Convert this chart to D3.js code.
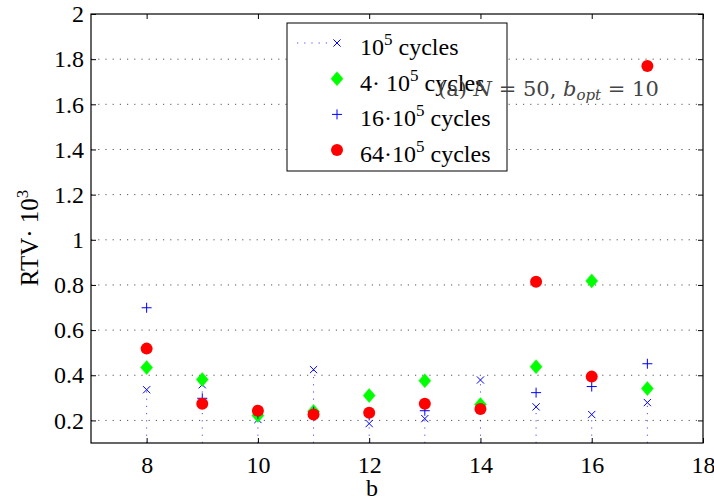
<!DOCTYPE html>
<html>
<head>
<meta charset="utf-8">
<script src="https://cdn.jsdelivr.net/npm/d3@7"></script>
<style>
  body { margin: 0; background: #fff; }
  svg text { font-family: "Liberation Serif", "Times New Roman", Times, serif !important; }
  svg text.math { font-family: "DejaVu Serif", serif !important; }
</style>
</head>
<body>
<div id="chart"></div>
<script>
const WIDTH = 714;
const HEIGHT = 501;

// data
const bValues = [8, 9, 10, 11, 12, 13, 14, 15, 16, 17];
const cycles1 = [0.336, 0.358, 0.204, 0.425, 0.186, 0.208, 0.379, 0.260, 0.226, 0.279];
const cycles4 = [0.434, 0.381, 0.222, 0.240, 0.310, 0.376, 0.270, 0.438, 0.818, 0.341];
const cycles16 = [0.699, 0.298, 0.230, 0.238, 0.222, 0.243, 0.255, 0.323, 0.350, 0.451];
const cycles64 = [0.518, 0.274, 0.243, 0.226, 0.234, 0.274, 0.251, 0.814, 0.394, 1.770];

const xTicks = [8, 10, 12, 14, 16, 18];
const yTicks = [0.2, 0.4, 0.6, 0.8, 1, 1.2, 1.4, 1.6, 1.8, 2];

const BLUE = "#0000ff";
const GREEN = "#00ff00";
const RED = "#ff0000";

const margin = {left: 91, right: 11, top: 14, bottom: 58};
const plotW = WIDTH - margin.left - margin.right;
const plotH = HEIGHT - margin.top - margin.bottom;

var svg = d3.select("#chart").append("svg")
    .attr("width", WIDTH)
    .attr("height", HEIGHT);

var xScale = d3.scaleLinear().domain([7, 18]).range([0, plotW]);
var yScale = d3.scaleLinear().domain([0.1, 2]).range([plotH, 0]);

var g = svg.append("g")
    .attr("transform", "translate(" + margin.left + "," + margin.top + ")");

// horizontal dotted grid
g.selectAll("line.grid")
    .data(yTicks.filter(d => d < 2))
    .enter().append("line")
    .attr("class", "grid")
    .attr("x1", 0).attr("x2", plotW)
    .attr("y1", d => yScale(d)).attr("y2", d => yScale(d))
    .attr("stroke", "#555")
    .attr("stroke-width", 1)
    .attr("stroke-dasharray", "1.2,6");

// axes (ticks inside, mirrored on top / right)
var xBottom = g.append("g")
    .attr("transform", "translate(0," + plotH + ")")
    .call(d3.axisBottom(xScale).tickValues(xTicks).tickSize(-5).tickPadding(13).tickFormat(d3.format("d")));
var xTop = g.append("g")
    .call(d3.axisTop(xScale).tickValues(xTicks).tickSize(-5).tickFormat(""));
var yLeft = g.append("g")
    .call(d3.axisLeft(yScale).tickValues(yTicks).tickSize(-5).tickPadding(7).tickFormat(d => d3.format("")(d)));
var yRight = g.append("g")
    .attr("transform", "translate(" + plotW + ",0)")
    .call(d3.axisRight(yScale).tickValues(yTicks).tickSize(-5).tickFormat(""));

[xBottom, xTop, yLeft, yRight].forEach(a => {
    a.attr("font-family", "Liberation Serif");
    a.select(".domain").remove();
    a.selectAll(".tick line").attr("stroke", "#000");
    a.selectAll("text").attr("font-size", 24).attr("fill", "#000");
});

// stems for the 10^5 series
g.selectAll("line.stem")
    .data(bValues)
    .enter().append("line")
    .attr("class", "stem")
    .attr("x1", d => xScale(d)).attr("x2", d => xScale(d))
    .attr("y1", plotH)
    .attr("y2", (d, i) => yScale(cycles1[i]))
    .attr("stroke", BLUE)
    .attr("stroke-opacity", 0.7)
    .attr("stroke-width", 1)
    .attr("stroke-dasharray", "1.2,6");

function drawCross(sel, s) {
    sel.append("path")
        .attr("d", "M" + (-s) + "," + (-s) + "L" + s + "," + s + "M" + (-s) + "," + s + "L" + s + "," + (-s))
        .attr("stroke", BLUE).attr("stroke-width", 1).attr("fill", "none");
}
function drawPlus(sel, s) {
    sel.append("path")
        .attr("d", "M" + (-s) + ",0L" + s + ",0M0," + (-s) + "L0," + s)
        .attr("stroke", BLUE).attr("stroke-width", 1).attr("fill", "none");
}
function drawDiamond(sel) {
    sel.append("path")
        .attr("d", "M0,-7L6,0L0,7L-6,0Z")
        .attr("fill", GREEN).attr("stroke", GREEN).attr("stroke-width", 0.5);
}
function drawDot(sel) {
    sel.append("circle").attr("r", 6).attr("fill", RED);
}

function drawSeries(values, drawer) {
    g.append("g").selectAll("g")
        .data(bValues)
        .enter().append("g")
        .attr("transform", (d, i) => "translate(" + xScale(d) + "," + yScale(values[i]) + ")")
        .each(function() { drawer(d3.select(this)); });
}

drawSeries(cycles1, s => drawCross(s, 3.6));
drawSeries(cycles4, drawDiamond);
drawSeries(cycles16, s => drawPlus(s, 5));
drawSeries(cycles64, drawDot);

// frame
g.append("rect")
    .attr("width", plotW).attr("height", plotH)
    .attr("fill", "none").attr("stroke", "#000").attr("stroke-width", 1.2);

// legend
var legend = svg.append("g").attr("transform", "translate(287,23)");
legend.append("rect")
    .attr("width", 220).attr("height", 148)
    .attr("fill", "#fff").attr("stroke", "#000").attr("stroke-width", 1);

const legendRows = [
    {pre: "10", drawer: s => drawCross(s, 3.6), line: true},
    {pre: "4\u00b7 10", drawer: drawDiamond, line: false},
    {pre: "16\u00b710", drawer: s => drawPlus(s, 5), line: false},
    {pre: "64\u00b710", drawer: drawDot, line: false}
];
legendRows.forEach((r, i) => {
    var y = 20 + i * 35.7;
    if (r.line) {
        legend.append("line")
            .attr("x1", 10).attr("x2", 46).attr("y1", y).attr("y2", y)
            .attr("stroke", BLUE).attr("stroke-opacity", 0.7)
            .attr("stroke-dasharray", "1.2,6");
    }
    var m = legend.append("g").attr("transform", "translate(50," + y + ")");
    r.drawer(m);
    var t = legend.append("text")
        .attr("x", 73).attr("y", y + 12)
        .attr("font-size", 24).attr("fill", "#000");
    t.append("tspan").text(r.pre);
    t.append("tspan").attr("dy", -10).attr("font-size", 17).text("5");
    t.append("tspan").attr("dy", 10).text(" cycles");
});

// annotation
var ann = svg.append("text")
    .attr("class", "math")
    .attr("x", 438).attr("y", 96)
    .attr("font-size", 21).attr("fill", "#444");
ann.append("tspan").text("(a)  ");
ann.append("tspan").attr("font-style", "italic").text("N");
ann.append("tspan").text(" = 50, ");
ann.append("tspan").attr("font-style", "italic").text("b");
ann.append("tspan").attr("font-style", "italic").attr("font-size", 15).attr("dy", 4).text("opt");
ann.append("tspan").attr("dy", -4).text(" = 10");

// axis labels
svg.append("text")
    .attr("x", margin.left + xScale(12.05)).attr("y", 496)
    .attr("text-anchor", "middle")
    .attr("font-size", 24).text("b");

var yl = svg.append("text")
    .attr("transform", "translate(38,238) rotate(-90)")
    .attr("text-anchor", "middle")
    .attr("font-size", 25);
yl.append("tspan").text("RTV\u00b7 10");
yl.append("tspan").attr("dy", -10).attr("font-size", 17).text("3");
</script>
</body>
</html>
